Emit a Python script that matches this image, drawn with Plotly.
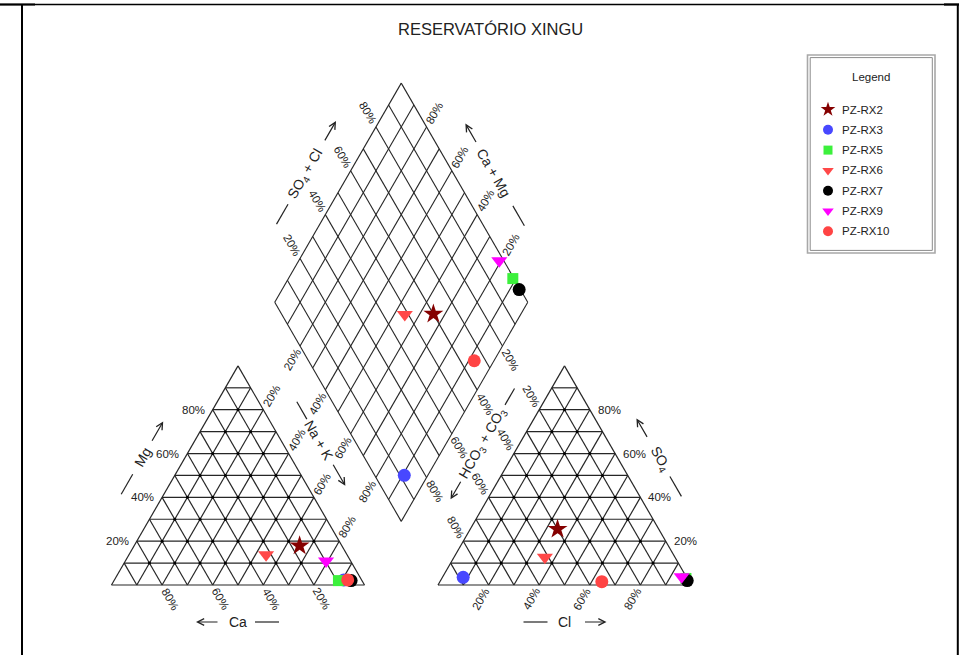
import numpy as np
import plotly.graph_objects as go

# ---------------- data (percent of meq) ----------------
samples = ["PZ-RX2", "PZ-RX3", "PZ-RX5", "PZ-RX6", "PZ-RX7", "PZ-RX9", "PZ-RX10"]
ca   = [16.7, 7.0, 9.3, 32.0, 4.3, 9.7, 5.5]
mg   = [17.9, 2.3, 2.0, 13.8, 2.0, 11.0, 2.3]
nak  = [65.4, 90.7, 88.7, 54.2, 93.7, 79.3, 92.2]
hco3 = [40.0, 88.3, 0.5, 51.4, 0.5, 1.8, 34.5]
so4  = [25.5, 3.5, 3.0, 12.7, 2.0, 3.8, 1.5]
cl   = [34.5, 8.2, 96.5, 35.9, 97.5, 94.4, 64.0]
pct_ticks = [20, 40, 60, 80]
title_text = "RESERVATÓRIO XINGU"

# ---------------- styles ----------------
symbols = ["star", "circle", "square", "triangle-down", "circle", "triangle-down", "circle"]
colors = ["#850000", "#4848FF", "#3CF03C", "#FF4848", "#000000", "#FF00FF", "#FF4444"]
sizes = [15, 13, 11, 14, 13, 14, 13]
leg_sizes = [11, 10, 9, 10, 10, 10, 10]
FONT = "Liberation Sans, Arial, sans-serif"
TXT = "#222222"
GRID = "#262626"

W, H = 959, 655
S = 253.0          # pixels per unit side
X0, Y0 = 111.5, 585.0
h = np.sqrt(3) / 2
g = 0.2905         # gap between triangles (in side units)
OXR = 1 + g        # x offset of right triangle
B = np.array([1 + g / 2, g * h])   # bottom vertex of diamond
vc = np.array([-0.5, h])           # Ca+Mg direction
vs = np.array([0.5, h])            # SO4+Cl direction


def to_px(p):
    return np.array([X0 + S * p[0], Y0 - S * p[1]])


def to_data(q):
    return np.array([(q[0] - X0) / S, (Y0 - q[1]) / S])


def tri_pt(top, right, ox=0.0):
    return np.array([ox + right + top / 2, top * h])


fig = go.Figure()

# ---------------- grids ----------------
gx, gy = [], []


def seg(p, q):
    gx.extend([p[0], q[0], None])
    gy.extend([p[1], q[1], None])


for ox in (0.0, OXR):
    seg(tri_pt(0, 0, ox), tri_pt(0, 1, ox))
    seg(tri_pt(0, 1, ox), tri_pt(1, 0, ox))
    seg(tri_pt(1, 0, ox), tri_pt(0, 0, ox))
    for i in range(1, 10):
        f = i / 10
        seg(tri_pt(f, 0, ox), tri_pt(f, 1 - f, ox))        # horizontal
        seg(tri_pt(0, 1 - f, ox), tri_pt(1 - f, 0, ox))    # parallel right edge
        seg(tri_pt(0, f, ox), tri_pt(1 - f, f, ox))        # parallel left edge

dx, dy = [], []
for i in range(0, 11):
    f = i / 10
    p = B + f * vc
    dx.extend([p[0], (p + vs)[0], None]); dy.extend([p[1], (p + vs)[1], None])
    p = B + f * vs
    dx.extend([p[0], (p + vc)[0], None]); dy.extend([p[1], (p + vc)[1], None])

fig.add_trace(go.Scatter(x=gx, y=gy, mode="lines", line=dict(color=GRID, width=1.2),
                         hoverinfo="skip", showlegend=False))
fig.add_trace(go.Scatter(x=dx, y=dy, mode="lines", line=dict(color=GRID, width=1.1),
                         hoverinfo="skip", showlegend=False))

# intersection dots in triangles
ix, iy = [], []
for ox in (0.0, OXR):
    for i in range(1, 10):
        for j in range(1, 10 - i):
            p = tri_pt(i / 10, j / 10, ox)
            ix.append(p[0]); iy.append(p[1])
fig.add_trace(go.Scatter(x=ix, y=iy, mode="markers", marker=dict(color="#000", size=3),
                         hoverinfo="skip", showlegend=False))

# ---------------- sample points ----------------
for k, name in enumerate(samples):
    ct = ca[k] + mg[k] + nak[k]
    at = hco3[k] + so4[k] + cl[k]
    pl = tri_pt(mg[k] / ct, nak[k] / ct, 0.0)
    pr = tri_pt(so4[k] / at, cl[k] / at, OXR)
    c = (ca[k] + mg[k]) / ct
    s = (so4[k] + cl[k]) / at
    pd = B + c * vc + s * vs
    fig.add_trace(go.Scatter(
        x=[pl[0], pr[0], pd[0]], y=[pl[1], pr[1], pd[1]], mode="markers", name=name,
        marker=dict(symbol=symbols[k], color=colors[k], size=sizes[k], line=dict(width=0)),
        showlegend=False))

# ---------------- annotations ----------------
ann = []
shapes = []


def label(p_data, text, angle=0, xanchor="center", xshift=0, size=11.5):
    ann.append(dict(x=p_data[0], y=p_data[1], xref="x", yref="y", text=text, showarrow=False,
                    textangle=angle, xanchor=xanchor, yanchor="middle", xshift=xshift,
                    font=dict(family=FONT, size=size, color=TXT)))


def ext(pt_data, screen_dir, dist):
    q = to_px(pt_data) + np.array(screen_dir) * dist
    return to_data(q)


DR = (0.5, 0.866)    # screen down-right
UR = (0.5, -0.866)   # screen up-right
UL = (-0.5, -0.866)
DL = (-0.5, 0.866)
D = 16

for t in pct_ticks:
    f = t / 100
    # left triangle
    label(tri_pt(f, 0, 0.0), f"{t}%", 0, "right", -6)                   # Mg
    label(ext(tri_pt(0, 1 - f, 0.0), DR, D), f"{t}%", 60)              # Ca
    label(ext(tri_pt(1 - f, f, 0.0), UR, D), f"{t}%", -60)             # Na+K
    # right triangle
    label(tri_pt(f, 1 - f, OXR), f"{t}%", 0, "left", 6)                # SO4
    label(ext(tri_pt(0, f, OXR), DL, D), f"{t}%", -60)                 # Cl
    label(ext(tri_pt(1 - f, 0, OXR), UL, D), f"{t}%", 60)              # HCO3
    # diamond
    label(ext(B + vc + f * vs, UL, D), f"{t}%", 60)                    # SO4+Cl
    label(ext(B + f * vc + vs, UR, D), f"{t}%", -60)                   # Ca+Mg
    label(ext(B + (1 - f) * vc, DL, D), f"{t}%", -60)                  # Na+K
    label(ext(B + (1 - f) * vs, DR, D), f"{t}%", 60)                   # HCO3+CO3


def axis_title(center_px, direction, text, angle, dash, arrow):
    d = np.array(direction, dtype=float)
    cdat = to_data(center_px)
    ann.append(dict(x=cdat[0], y=cdat[1], xref="x", yref="y", text=text, showarrow=False,
                    textangle=angle, xanchor="center", yanchor="middle",
                    font=dict(family=FONT, size=14, color=TXT)))
    a = to_data(center_px + d * dash[0]); b = to_data(center_px + d * dash[1])
    shapes.append(dict(type="line", xref="x", yref="y", x0=a[0], y0=a[1], x1=b[0], y1=b[1],
                       line=dict(color=TXT, width=1.2)))
    head = to_data(center_px + d * arrow[1])
    tvec = d * (arrow[0] - arrow[1])
    ann.append(dict(x=head[0], y=head[1], xref="x", yref="y", text="", showarrow=True,
                    ax=tvec[0], ay=tvec[1], arrowhead=5, arrowsize=1.1, arrowwidth=1.2,
                    arrowcolor=TXT, standoff=0, startstandoff=0))


nDL = np.array([-0.866, -0.5])   # outward normal of a left-type edge
nDR = np.array([0.866, -0.5])    # outward normal of a right-type edge
vDR = np.array(DR); vUR = np.array(UR)


def mid(p, q):
    return (to_px(p) + to_px(q)) / 2


# left triangle
c_mg = mid(tri_pt(0, 0, 0), tri_pt(1, 0, 0)) + 37 * nDL
axis_title(c_mg, UR, "Mg", -60, (-43, -20), (17, 41))
c_ca = mid(tri_pt(0, 0, 0), tri_pt(0, 1, 0)) + np.array([0, 37])
axis_title(c_ca, (-1, 0), "Ca", 0, (-17, -41), (19, 42))
c_na = mid(tri_pt(0, 1, 0), tri_pt(1, 0, 0)) - 21 * vDR + 33 * nDR
axis_title(c_na, DR, "Na + K", 60, (-45, -25), (26, 52))
# right triangle
c_so4 = mid(tri_pt(0, 1, OXR), tri_pt(1, 0, OXR)) + 2 * vDR + 36 * nDR
axis_title(c_so4, UL, "SO<sub>4</sub>", 60, (-20, -43), (24, 47))
c_cl = mid(tri_pt(0, 0, OXR), tri_pt(0, 1, OXR)) + np.array([0, 37])
axis_title(c_cl, (1, 0), "Cl", 0, (-17, -41), (19, 42))
c_hc = mid(tri_pt(0, 0, OXR), tri_pt(1, 0, OXR)) + 19 * vUR + 32 * nDL
axis_title(c_hc, DL, "HCO<sub>3</sub> + CO<sub>3</sub>", -60, (-44, -63), (43, 65))
# diamond
c_sc = mid(B + vc, B + vc + vs) + 37.5 * nDL
axis_title(c_sc, UR, "SO<sub>4</sub> + Cl", -60, (-58, -35), (37, 61))
c_cm = mid(B + vs, B + vs + vc) - 2.4 * vDR + 35.3 * nDR
axis_title(c_cm, UL, "Ca + Mg", 60, (-38, -61), (34, 57))

# title
ann.append(dict(x=490 / W, y=1 - 29 / H, xref="paper", yref="paper", text=title_text,
                showarrow=False, xanchor="center", yanchor="middle",
                font=dict(family=FONT, size=16.5, color=TXT)))

# ---------------- manual legend ----------------
def pp(px, py):
    return px / W, 1 - py / H


L0, T0, R0, B0 = 807.5, 55.0, 935.0, 253.0
for (a, b, c2, d2, col, wd) in [(L0, T0, R0, B0, "#A8A8A8", 1.6),
                                 (L0 + 2.7, T0 + 2.6, R0 - 2.7, B0 - 2.6, "#8A8A8A", 1.0)]:
    x0, y1 = pp(a, b); x1, y0 = pp(c2, d2)
    shapes.append(dict(type="rect", xref="paper", yref="paper", x0=x0, y0=y0, x1=x1, y1=y1,
                       line=dict(color=col, width=wd), fillcolor="rgba(0,0,0,0)"))
lx, ly = pp(871, 77)
ann.append(dict(x=lx, y=ly, xref="paper", yref="paper", text="Legend", showarrow=False,
                xanchor="center", yanchor="middle", font=dict(family=FONT, size=11.5, color=TXT)))
for k, name in enumerate(samples):
    ypx = 109.5 + k * 20.3
    mx, my = to_data(np.array([828.0, ypx]))
    fig.add_trace(go.Scatter(x=[mx], y=[my], mode="markers", showlegend=False, hoverinfo="skip",
                             marker=dict(symbol=symbols[k], color=colors[k], size=leg_sizes[k],
                                         line=dict(width=0))))
    tx, ty = pp(840, ypx)
    ann.append(dict(x=tx, y=ty, xref="paper", yref="paper", text=name, showarrow=False,
                    xanchor="left", yanchor="middle", font=dict(family=FONT, size=11.5, color=TXT)))

# ---------------- page frame ----------------
def hline(x0p, x1p, ypx, w):
    a = pp(x0p, ypx); b = pp(x1p, ypx)
    shapes.append(dict(type="line", xref="paper", yref="paper", x0=a[0], y0=a[1], x1=b[0], y1=b[1],
                       line=dict(color="#000", width=w)))


def vline(xpx, y0p, y1p, w):
    a = pp(xpx, y0p); b = pp(xpx, y1p)
    shapes.append(dict(type="line", xref="paper", yref="paper", x0=a[0], y0=a[1], x1=b[0], y1=b[1],
                       line=dict(color="#000", width=w)))


hline(0, 959, 4.5, 1.3)
hline(0, 35, 4.5, 2.2)
hline(944, 959, 4.5, 2.2)
vline(22, 4, 655, 2)
vline(957.8, 4, 655, 2)

fig.update_layout(
    width=W, height=H, autosize=False,
    margin=dict(l=0, r=0, t=0, b=0, pad=0),
    paper_bgcolor="white", plot_bgcolor="white",
    xaxis=dict(range=[-X0 / S, (W - X0) / S], visible=False, fixedrange=True),
    yaxis=dict(range=[-(H - Y0) / S, Y0 / S], visible=False, fixedrange=True),
    annotations=ann, shapes=shapes, showlegend=False,
)

fig.write_html("out.html")
